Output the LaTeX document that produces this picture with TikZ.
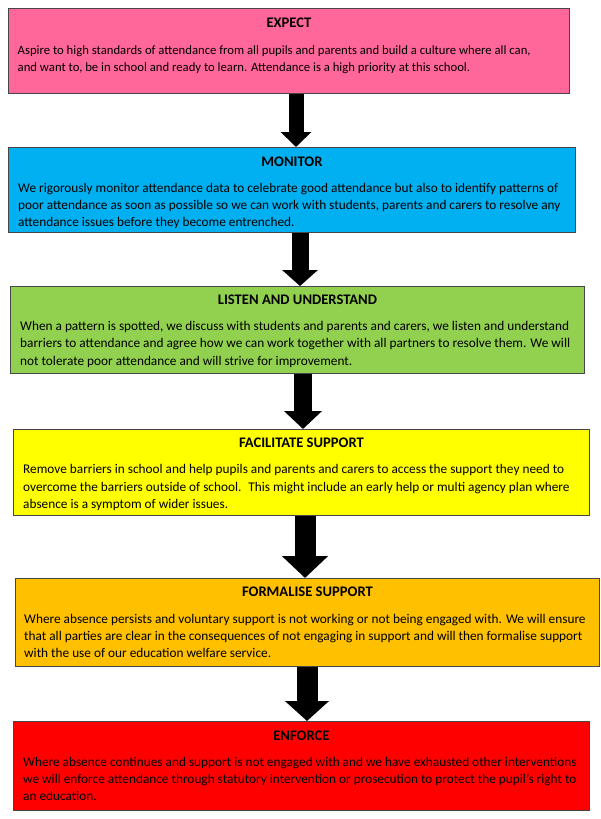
\documentclass[tikz,border=0pt]{standalone}
\usepackage{fontspec}
\setmainfont{Carlito}
\usetikzlibrary{arrows.meta}

\definecolor{expectpink}{RGB}{255,102,153}
\definecolor{monitorblue}{RGB}{0,176,240}
\definecolor{listengreen}{RGB}{146,208,80}
\definecolor{supportyellow}{RGB}{255,255,0}
\definecolor{formalorange}{RGB}{255,192,0}
\definecolor{enforcered}{RGB}{255,0,0}
\definecolor{edgegrey}{RGB}{70,70,70}

\tikzset{
  stage/.style={draw=edgegrey, line width=0.9pt, fill=#1, anchor=north west, inner sep=0pt},
  heading/.style={font=\fontsize{14.6}{17}\selectfont\bfseries, anchor=base, inner sep=0pt},
  body/.style={font=\fontsize{#1}{17.3}\selectfont, align=left, anchor=north west, inner sep=0pt},
  body/.default=13.3,
  flow/.style n args={3}{line width=#1, -{Triangle[width=#2, length=#3]}}
}

\begin{document}
\begin{tikzpicture}[x=1pt, y=-1pt]
  \useasboundingbox (0,0) rectangle (600,819);
  % boxes
  \node[stage=expectpink, minimum width=561pt, minimum height=85pt] (expect) at (8,8) {};
  \node[stage=monitorblue, minimum width=567pt, minimum height=85pt] (monitor) at (8,147) {};
  \node[stage=listengreen, minimum width=574pt, minimum height=87pt] (listen) at (10,286) {};
  \node[stage=supportyellow, minimum width=576pt, minimum height=86pt] (facilitate) at (13,429) {};
  \node[stage=formalorange, minimum width=584pt, minimum height=88pt] (formalise) at (15,578) {};
  \node[stage=enforcered, minimum width=576pt, minimum height=89pt] (enforce) at (13,721) {};
  % headings
  \node[heading] (expect title) at ([yshift=-19.4pt]expect.north) {EXPECT};
  \node[heading] (monitor title) at ([yshift=-19.4pt]monitor.north) {MONITOR};
  \node[heading] (listen title) at ([yshift=-18.2pt]listen.north) {LISTEN AND UNDERSTAND};
  \node[heading] (facilitate title) at ([yshift=-18.7pt]facilitate.north) {FACILITATE SUPPORT};
  \node[heading] (formalise title) at ([yshift=-18.4pt]formalise.north) {FORMALISE SUPPORT};
  \node[heading] (enforce title) at ([yshift=-19.4pt]enforce.north) {ENFORCE};
  % texts
  \node[body=12.7] (expect text) at ([xshift=9.5pt, yshift=-37.5pt]expect.north west)
    {Aspire to high standards of attendance from all pupils and parents and build a culture where all can,\\
     and want to, be in school and ready to learn. Attendance is a high priority at this school.};
  \node[body] (monitor text) at ([xshift=10pt, yshift=-35.6pt]monitor.north west)
    {We rigorously monitor attendance data to celebrate good attendance but also to identify patterns of\\
     poor attendance as soon as possible so we can work with students, parents and carers to resolve any\\
     attendance issues before they become entrenched.};
  \node[body] (listen text) at ([xshift=10pt, yshift=-35.1pt]listen.north west)
    {When a pattern is spotted, we discuss with students and parents and carers, we listen and understand\\
     barriers to attendance and agree how we can work together with all partners to resolve them. We will\\
     not tolerate poor attendance and will strive for improvement.};
  \node[body] (facilitate text) at ([xshift=10pt, yshift=-35.3pt]facilitate.north west)
    {Remove barriers in school and help pupils and parents and carers to access the support they need to\\
     overcome the barriers outside of school.~ This might include an early help or multi agency plan where\\
     absence is a symptom of wider issues.};
  \node[body] (formalise text) at ([xshift=9pt, yshift=-35.6pt]formalise.north west)
    {Where absence persists and voluntary support is not working or not being engaged with. We will ensure\\
     that all parties are clear in the consequences of not engaging in support and will then formalise support\\
     with the use of our education welfare service.};
  \node[body] (enforce text) at ([xshift=10pt, yshift=-35.6pt]enforce.north west)
    {Where absence continues and support is not engaged with and we have exhausted other interventions\\
     we will enforce attendance through statutory intervention or prosecution to protect the pupil’s right to\\
     an education.};
  % arrows
  \coordinate (a1) at (296,0);
  \coordinate (a2) at (300,0);
  \coordinate (a3) at (303,0);
  \coordinate (a4) at (305,0);
  \coordinate (a5) at (307,0);
  \draw[flow={15pt}{30pt}{15pt}] (expect.south -| a1) -- (monitor.north -| a1);
  \draw[flow={17pt}{35pt}{16pt}] (monitor.south -| a2) -- (listen.north -| a2);
  \draw[flow={18pt}{37pt}{18pt}] (listen.south -| a3) -- (facilitate.north -| a3);
  \draw[flow={21pt}{45pt}{22pt}] (facilitate.south -| a4) -- (formalise.north -| a4);
  \draw[flow={21pt}{43pt}{20pt}] (formalise.south -| a5) -- (enforce.north -| a5);
\end{tikzpicture}
\end{document}
